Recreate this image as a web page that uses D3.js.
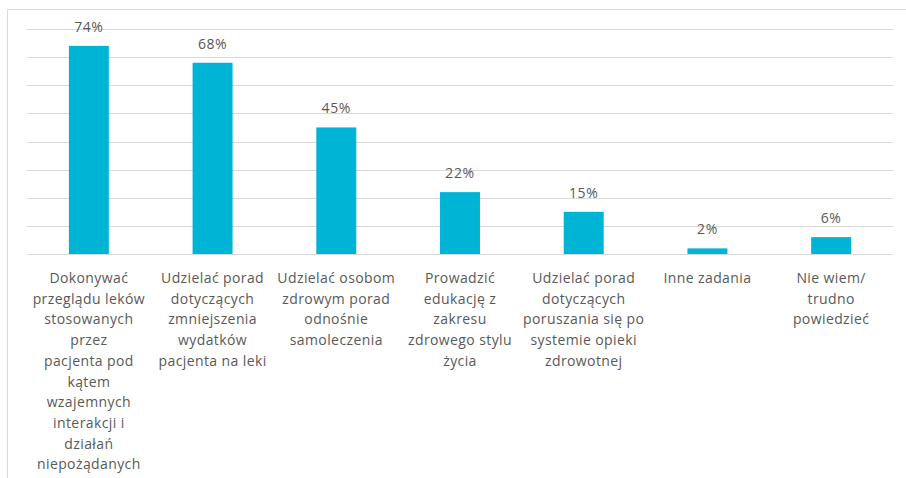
<!DOCTYPE html>
<html><head><meta charset="utf-8">
<script src="https://cdn.jsdelivr.net/npm/d3@7"></script>
<style>body{margin:0;background:#fff}svg{display:block}</style>
</head><body>
<script>
const categories = [
  "Dokonywać\nprzeglądu leków\nstosowanych\nprzez\npacjenta pod\nkątem\nwzajemnych\ninterakcji i\ndziałań\nniepożądanych",
  "Udzielać porad\ndotyczących\nzmniejszenia\nwydatków\npacjenta na leki",
  "Udzielać osobom\nzdrowym porad\nodnośnie\nsamoleczenia",
  "Prowadzić\nedukację z\nzakresu\nzdrowego stylu\nżycia",
  "Udzielać porad\ndotyczących\nporuszania się po\nsystemie opieki\nzdrowotnej",
  "Inne zadania",
  "Nie wiem/\ntrudno\npowiedzieć"
];
const values = [0.74, 0.68, 0.45, 0.22, 0.15, 0.02, 0.06];
const gridTicks = [0, 0.1, 0.2, 0.3, 0.4, 0.5, 0.6, 0.7, 0.8];

const W = 906, H = 478;
const svg = d3.select("body").append("svg").attr("width", W).attr("height", H);
const font = "'Open Sans', 'DejaVu Sans', sans-serif";
const textColor = "#595959";

// outer chart border
svg.append("path").attr("d", `M7.5,${H} V9.5 H${W}`).attr("fill","none").attr("stroke","#d9d9d9").attr("stroke-width",1);

const x = d3.scaleBand().domain(d3.range(categories.length)).range([27, 893]).paddingInner(0.677).paddingOuter(0.3385);
const y = d3.scaleLinear().domain([0, 0.8]).range([254, 29]);

const grid = svg.append("g");
gridTicks.forEach(t => {
  grid.append("line").attr("x1", 27).attr("x2", 893)
    .attr("y1", Math.round(y(t)) + 0.5).attr("y2", Math.round(y(t)) + 0.5)
    .attr("stroke", "#d9d9d9").attr("stroke-width", 1);
});

svg.append("g").selectAll("rect").data(values).join("rect")
  .attr("x", (d,i) => x(i)).attr("width", x.bandwidth())
  .attr("y", d => y(d)).attr("height", d => y(0) - y(d))
  .attr("fill", "#00B4D6");

svg.append("g").selectAll("text").data(values).join("text")
  .attr("x", (d,i) => x(i) + x.bandwidth()/2)
  .attr("y", d => y(d) - 14)
  .attr("text-anchor", "middle")
  .attr("font-family", font).attr("font-size", 14).attr("letter-spacing", 0.6).attr("fill", textColor)
  .text(d => Math.round(d*100) + "%");

const labels = svg.append("g");
categories.forEach((c, i) => {
  const t = labels.append("text")
    .attr("x", x(i) + x.bandwidth()/2).attr("y", 283)
    .attr("text-anchor", "middle")
    .attr("font-family", font).attr("font-size", 14).attr("letter-spacing", 0.4).attr("fill", textColor);
  c.split("\n").forEach((line, j) => {
    t.append("tspan").attr("x", x(i) + x.bandwidth()/2).attr("y", 283 + j*20.7).text(line);
  });
});
</script>
</body></html>
